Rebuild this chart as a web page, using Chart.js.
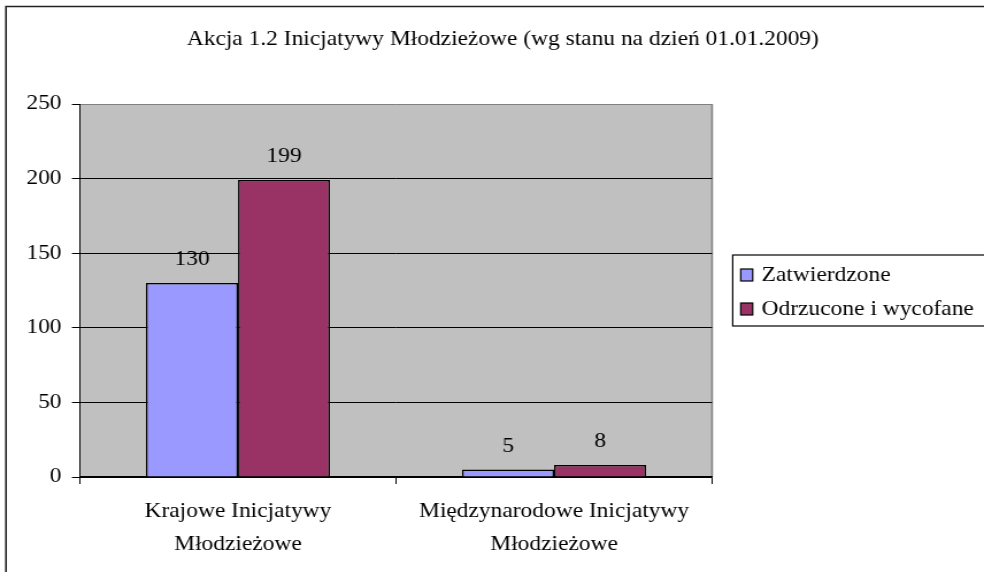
<!DOCTYPE html>
<html>
<head>
<meta charset="utf-8">
<script src="https://cdn.jsdelivr.net/npm/chart.js@4.4.1/dist/chart.umd.min.js"></script>
<style>
html, body { margin: 0; padding: 0; background: #fff; overflow: hidden; }
#wrap { height: 572px; transform-origin: 0 0; }
#c { display: block; }
</style>
</head>
<body>
<div id="wrap"><canvas id="c" height="572"></canvas></div>
<script>
const categories = [['Krajowe Inicjatywy', 'Młodzieżowe'], ['Międzynarodowe Inicjatywy', 'Młodzieżowe']];
const seriesNames = ['Zatwierdzone', 'Odrzucone i wycofane'];
const approved = [130, 5];
const rejected = [199, 8];
const yTicks = [0, 50, 100, 150, 200, 250];
const titleText = 'Akcja 1.2 Inicjatywy Młodzieżowe (wg stanu na dzień 01.01.2009)';

// the picture is stretched sideways, so draw narrow and let css widen it
const SX = 1.15;
const W = Math.round(984 / SX);
const FONT = '"Liberation Serif", "Times New Roman", serif';
const FS = 20.4;

const wrap = document.getElementById('wrap');
wrap.style.width = W + 'px';
wrap.style.transform = 'scaleX(' + (984 / W) + ')';
document.getElementById('c').width = W;

const extras = {
    id: 'extras',
    beforeDraw(chart) {
        const ctx = chart.ctx;
        const a = chart.chartArea;
        ctx.save();
        ctx.fillStyle = '#c0c0c0';
        ctx.fillRect(a.left, a.top, a.right - a.left, a.bottom - a.top);
        ctx.strokeStyle = '#808080';
        ctx.lineWidth = 1.5;
        ctx.beginPath();
        ctx.moveTo(a.right, a.top);
        ctx.lineTo(a.right, a.bottom);
        ctx.stroke();

        // outer frame (only top and left are visible)
        ctx.strokeStyle = '#222';
        ctx.lineWidth = 1.6;
        ctx.beginPath();
        ctx.moveTo(6 / SX, chart.height + 2);
        ctx.lineTo(6 / SX, 6.5);
        ctx.lineTo(chart.width + 2, 6.5);
        ctx.stroke();

        ctx.fillStyle = '#000';
        ctx.font = FS + 'px ' + FONT;
        ctx.textAlign = 'center';
        ctx.textBaseline = 'middle';
        ctx.fillText(titleText, 503 / SX, 40);
        ctx.restore();
    },
    afterDraw(chart) {
        const ctx = chart.ctx;
        ctx.save();
        ctx.font = FS + 'px ' + FONT;
        ctx.fillStyle = '#000';
        ctx.textAlign = 'center';
        ctx.textBaseline = 'middle';
        chart.data.datasets.forEach((ds, i) => {
            chart.getDatasetMeta(i).data.forEach((bar, j) => {
                ctx.fillText(String(ds.data[j]), bar.x, bar.y - 23);
            });
        });

        // legend
        ctx.strokeStyle = '#000';
        ctx.lineWidth = 1.2;
        ctx.strokeRect(733 / SX, 255, 300, 71);
        ctx.textAlign = 'left';
        const rows = [275, 309];
        chart.data.datasets.forEach((ds, i) => {
            ctx.fillStyle = ds.backgroundColor;
            ctx.fillRect(741 / SX, rows[i] - 6, 12 / SX, 12);
            ctx.strokeRect(741 / SX, rows[i] - 6, 12 / SX, 12);
            ctx.fillStyle = '#000';
            ctx.fillText(ds.label, 762 / SX, rows[i] + 1);
        });
        ctx.restore();
    }
};

new Chart(document.getElementById('c'), {
    type: 'bar',
    data: {
        labels: categories,
        datasets: [
            { label: seriesNames[0], data: approved, backgroundColor: '#9999ff' },
            { label: seriesNames[1], data: rejected, backgroundColor: '#993366' }
        ]
    },
    options: {
        responsive: false,
        animation: false,
        events: [],
        layout: { padding: { top: 104, right: (984 - 712) / SX, left: 0, bottom: 0 } },
        datasets: {
            bar: {
                categoryPercentage: 0.582,
                barPercentage: 1,
                borderColor: '#000',
                borderWidth: 1.5
            }
        },
        scales: {
            x: {
                grid: { offset: true, drawOnChartArea: false, drawTicks: true, tickLength: 7, color: '#000' },
                border: { display: true, color: '#000', width: 1.5 },
                ticks: {
                    color: '#000',
                    padding: 11,
                    font: { family: FONT, size: FS, lineHeight: 1.62 }
                },
                afterFit(scale) { scale.height = 572 - 477; }
            },
            y: {
                min: 0,
                max: 250,
                afterBuildTicks(scale) { scale.ticks = yTicks.map(v => ({ value: v })); },
                grid: {
                    color: (c) => (c.tick && c.tick.value === 250 ? '#808080' : '#000'),
                    tickColor: '#000',
                    tickLength: 7,
                    lineWidth: 1
                },
                border: { display: true, color: '#000', width: 1 },
                ticks: {
                    color: '#000',
                    padding: 9,
                    font: { family: FONT, size: FS }
                },
                afterFit(scale) { scale.width = 80 / SX; }
            }
        },
        plugins: {
            legend: { display: false },
            tooltip: { enabled: false },
            title: { display: false }
        }
    },
    plugins: [extras]
});
</script>
</body>
</html>
